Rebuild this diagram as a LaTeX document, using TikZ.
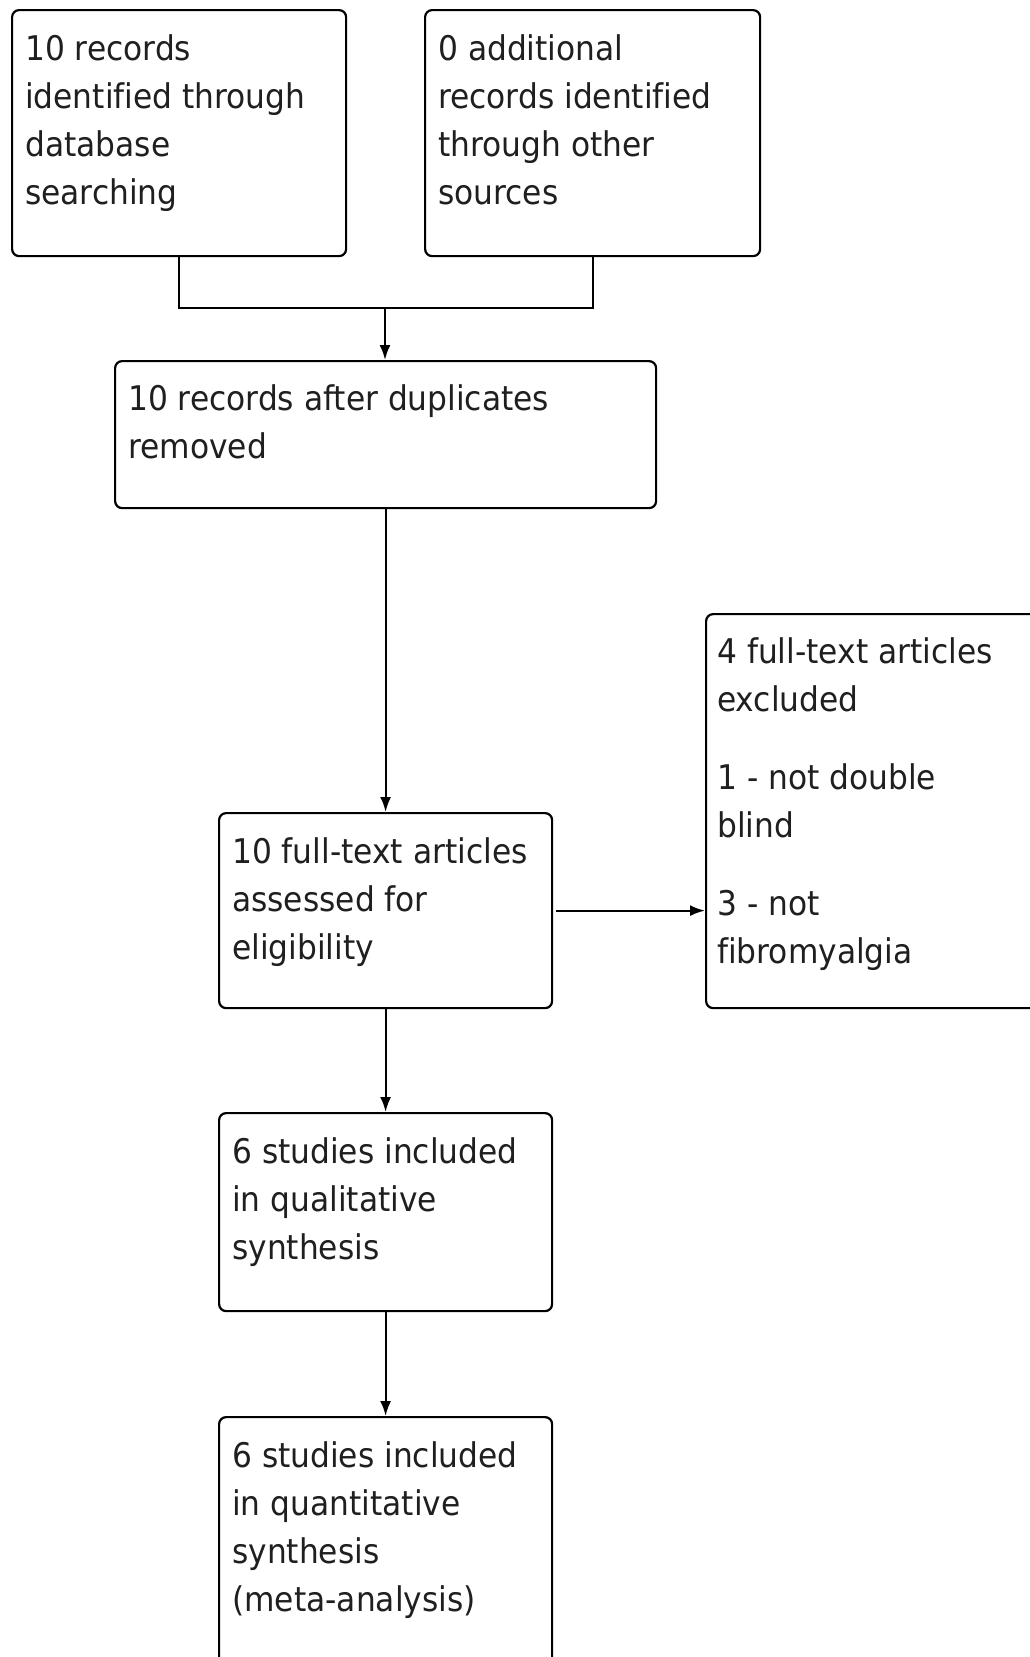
\documentclass[tikz,border=0pt]{standalone}
\usepackage{fontspec}
\setmainfont[FakeStretch=0.92,Ligatures=NoCommon]{DejaVu Sans}
\usetikzlibrary{arrows.meta,calc}
\tikzset{
  box/.style={draw=black, line width=2.2pt, rounded corners=7pt, inner sep=0pt, anchor=north west},
  txt/.style={inner sep=0pt, anchor=base west, text=black!88},
  conn/.style={draw=black, line width=2.2pt},
  arr/.style={conn, -{Latex[length=15pt,width=11pt]}}
}
\newcommand{\boxtext}[1]{\parbox[t]{600pt}{\fontsize{34}{48}\selectfont\raggedright #1}}
\begin{document}
\begin{tikzpicture}[x=1pt,y=-1pt]
\useasboundingbox (0,0) rectangle (1030,1657);
\clip (0,0) rectangle (1030,1657);
\fill[white] (0,0) rectangle (1030,1657);
% boxes
\node[box, minimum width=334pt, minimum height=246pt] (b1) at (11,9) {};
\node[box, minimum width=335pt, minimum height=246pt] (b2) at (424,9) {};
\node[box, minimum width=541pt, minimum height=147pt] (b3) at (114,360) {};
\node[box, minimum width=333pt, minimum height=195pt] (b4) at (218,812) {};
\node[box, minimum width=360pt, minimum height=394pt] (r) at (705,613) {};
\node[box, minimum width=333pt, minimum height=198pt] (b5) at (218,1112) {};
\node[box, minimum width=333pt, minimum height=300pt] (b6) at (218,1416) {};
% texts
\node[txt] (t1) at ($(b1.north west)+(14,51)$) {\boxtext{10 records\\identified through\\database\\searching}};
\node[txt] (t2) at ($(b2.north west)+(14,51)$) {\boxtext{0 additional\\records identified\\through other\\sources}};
\node[txt] (t3) at ($(b3.north west)+(14,50)$) {\boxtext{10 records after duplicates\\removed}};
\node[txt] (t4) at ($(b4.north west)+(14,51)$) {\boxtext{10 full-text articles\\assessed for\\eligibility}};
\node[txt] (tr) at ($(r.north west)+(12,50)$) {\boxtext{4 full-text articles\\excluded\\[30pt]1 - not double\\blind\\[30pt]3 - not\\fibromyalgia}};
\node[txt] (t5) at ($(b5.north west)+(14,51)$) {\boxtext{6 studies included\\in qualitative\\synthesis}};
\node[txt] (t6) at ($(b6.north west)+(14,51)$) {\boxtext{6 studies included\\in quantitative\\synthesis\\(meta-analysis)}};
% connectors
\coordinate (j) at (385,308);
\draw[conn] (b1.south) |- (j) -| (b2.south);
\draw[arr] (j) -- (j |- b3.north);
\draw[arr] (b3.south) -- (b4.north);
\draw[arr] ($(b4.east)+(3,0)$) -- (b4.east -| r.west);
\draw[arr] (b4.south) -- (b5.north);
\draw[arr] (b5.south) -- (b6.north);
\end{tikzpicture}
\end{document}
